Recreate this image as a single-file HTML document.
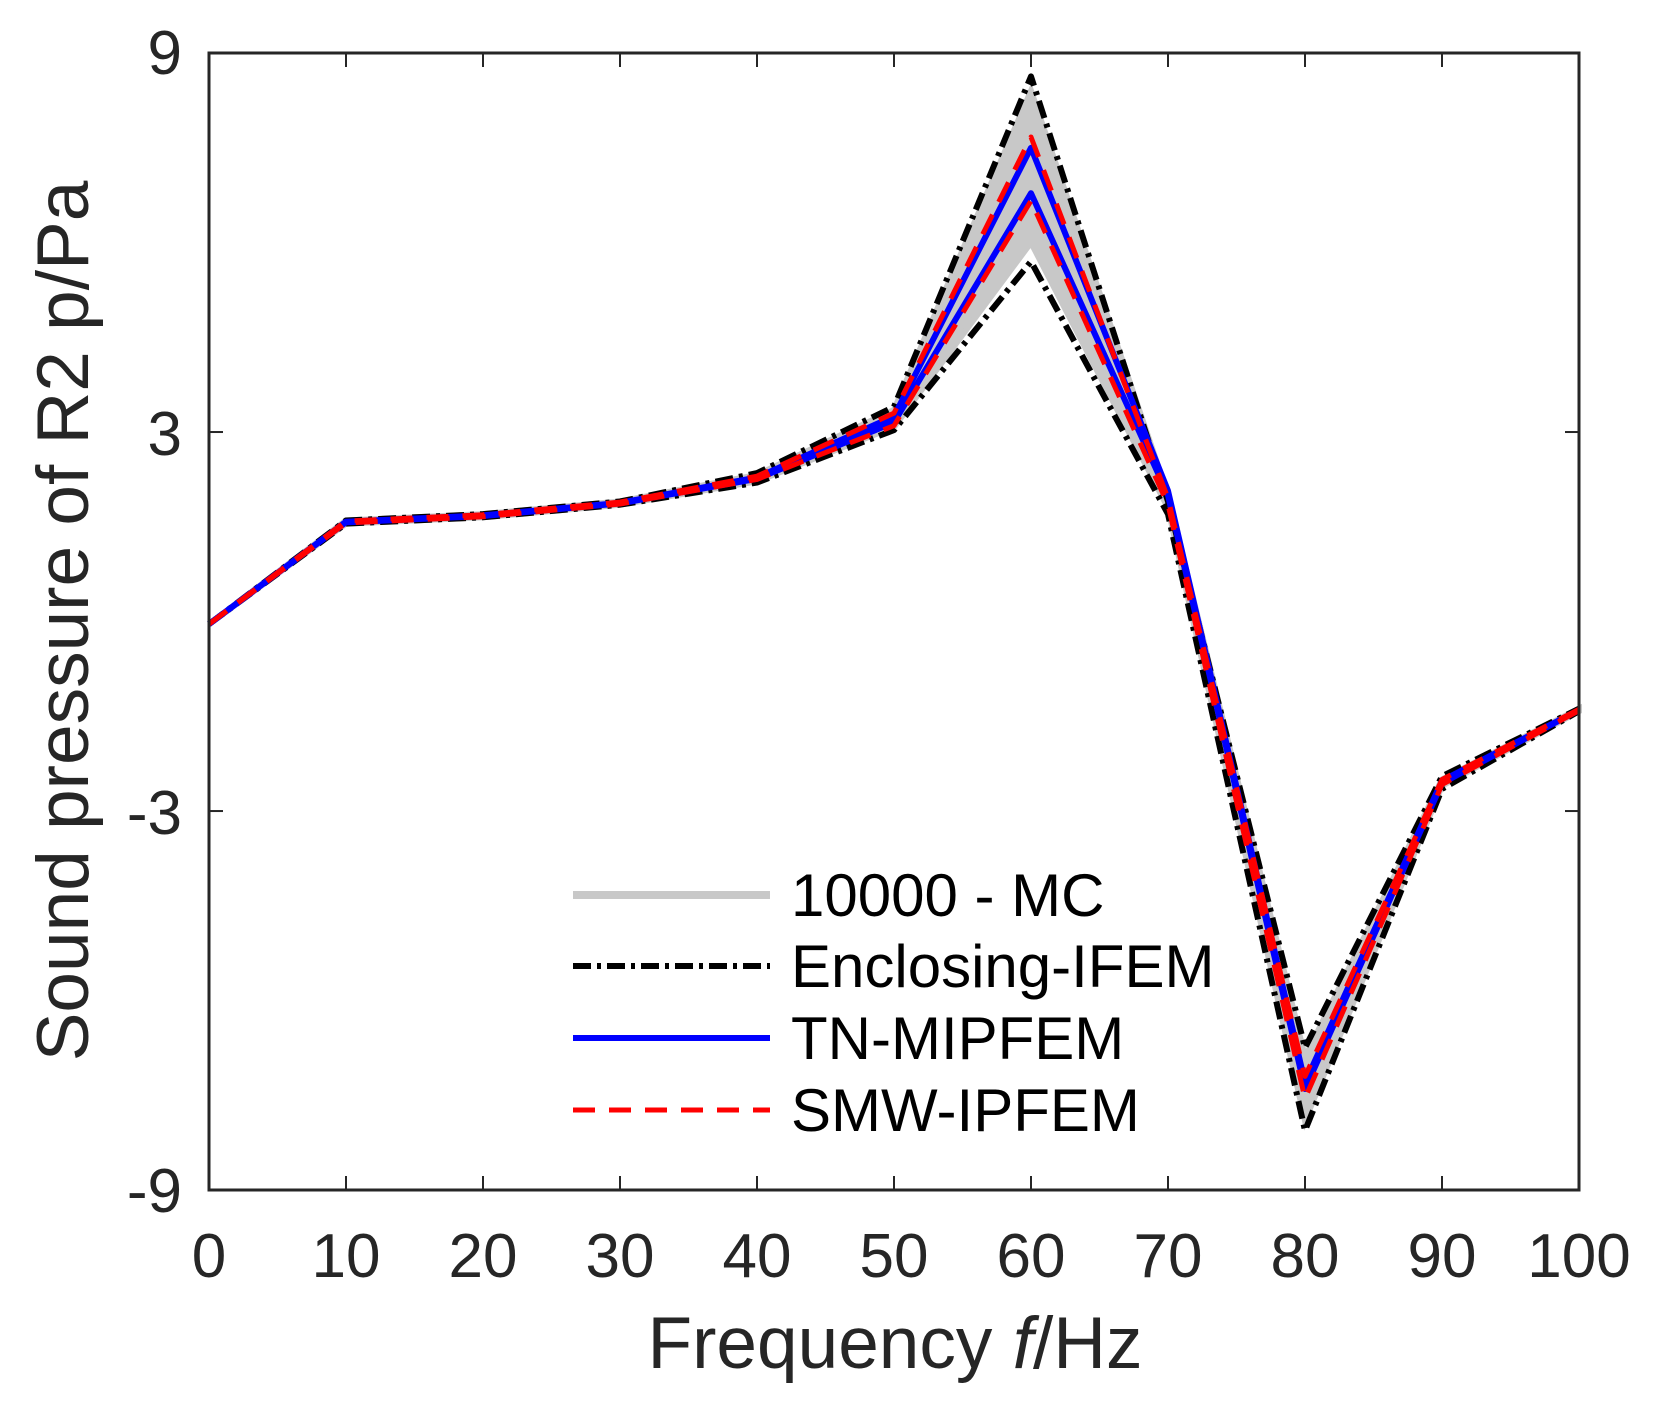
<!DOCTYPE html>
<html><head><meta charset="utf-8"><style>
html,body{margin:0;padding:0;background:#fff;}
svg{display:block;font-family:"Liberation Sans",Arial,sans-serif;}
</style></head><body>
<svg id="s" width="1663" height="1415" xmlns="http://www.w3.org/2000/svg">
<rect width="1663" height="1415" fill="#fff"/>
<g id="plot"></g>
<rect x="209" y="53" width="1370" height="1137" fill="none" stroke="#262626" stroke-width="3"/>
<g id="ticks" stroke="#262626" stroke-width="2"></g>
<g font-size="62" fill="#262626" text-anchor="end">
<text x="182" y="74">9</text>
<text x="182" y="455">3</text>
<text x="182" y="834">-3</text>
<text x="182" y="1212">-9</text>
</g>
<g id="xl" font-size="62" fill="#262626" text-anchor="middle"></g>
<text x="895" y="1368" font-size="73" fill="#262626" text-anchor="middle">Frequency <tspan font-style="italic">f</tspan>/Hz</text>
<text transform="translate(88,621) rotate(-90)" font-size="73" fill="#262626" text-anchor="middle">Sound pressure of R2 p/Pa</text>
<g font-size="60" fill="#000">
<line x1="573" y1="895" x2="770" y2="895" stroke="#c8c8c8" stroke-width="8"/>
<text x="791" y="916">10000 - MC</text>
<line x1="573" y1="966" x2="770" y2="966" stroke="#000" stroke-width="6" stroke-dasharray="18,6,4,6"/>
<text x="791" y="987">Enclosing-IFEM</text>
<line x1="573" y1="1038" x2="770" y2="1038" stroke="#0000ff" stroke-width="6"/>
<text x="791" y="1059">TN-MIPFEM</text>
<line x1="573" y1="1110" x2="770" y2="1110" stroke="#ff0000" stroke-width="5" stroke-dasharray="22,14"/>
<text x="791" y="1131">SMW-IPFEM</text>
</g>
</svg>
<script>
var X=f=>209+13.7*f, Y=v=>53+(9-v)*63.17;
var fs=[0,10,20,30,40,50,60,70,80,90,100];
var bu=[-0.04,1.6,1.7,1.9,2.35,3.4,8.63,1.9,-6.75,-2.45,-1.38];
var bl=[-0.04,1.55,1.65,1.85,2.2,3.03,5.7,1.7,-8.06,-2.65,-1.42];
var gu=[-0.04,1.6,1.7,1.9,2.32,3.35,8.4,2.0,-6.9,-2.5,-1.38];
var gl=[-0.04,1.55,1.65,1.85,2.22,3.08,6.0,1.8,-7.9,-2.6,-1.42];
var ru=[-0.04,1.59,1.69,1.89,2.3,3.3,7.67,1.95,-7.2,-2.5,-1.39];
var rl=[-0.04,1.56,1.66,1.86,2.25,3.1,6.66,1.85,-7.55,-2.58,-1.41];
var Bu=[-0.04,1.58,1.68,1.88,2.28,3.25,7.5,2.07,-7.3,-2.52,-1.4];
var Bl=[-0.04,1.57,1.67,1.87,2.26,3.15,6.78,2.0,-7.4,-2.56,-1.4];
function pts(a){return a.map((v,i)=>X(fs[i]).toFixed(1)+","+Y(v).toFixed(1)).join(" ");}
var g=document.getElementById("plot"),h="";
h+='<polygon points="'+pts(gu)+' '+pts(gl).split(" ").reverse().join(" ")+'" fill="#c8c8c8" stroke="#c8c8c8" stroke-width="6"/>';
function pl(a,c,w,d){h+='<polyline points="'+pts(a)+'" fill="none" stroke="'+c+'" stroke-width="'+w+'" stroke-linejoin="round"'+(d?' stroke-dasharray="'+d+'"':'')+'/>';}
pl(bu,"#000",6,"18,6,4,6");pl(bl,"#000",6,"18,6,4,6");
pl(Bu,"#0000ff",6);pl(Bl,"#0000ff",6);
pl(ru,"#ff0000",5,"22,14");pl(rl,"#ff0000",5,"22,14");
g.innerHTML=h;
var t="",xl="";
for(var i=0;i<=10;i++){var x=X(i*10);t+='<line x1="'+x+'" y1="1190" x2="'+x+'" y2="1176"/><line x1="'+x+'" y1="53" x2="'+x+'" y2="67"/>';
xl+='<text x="'+x+'" y="1277">'+(i*10)+'</text>';}
[9,3,-3,-9].forEach(v=>{var y=Y(v);t+='<line x1="209" y1="'+y+'" x2="223" y2="'+y+'"/><line x1="1565" y1="'+y+'" x2="1579" y2="'+y+'"/>';});
document.getElementById("ticks").innerHTML=t;
document.getElementById("xl").innerHTML=xl;
</script>
</body></html>
